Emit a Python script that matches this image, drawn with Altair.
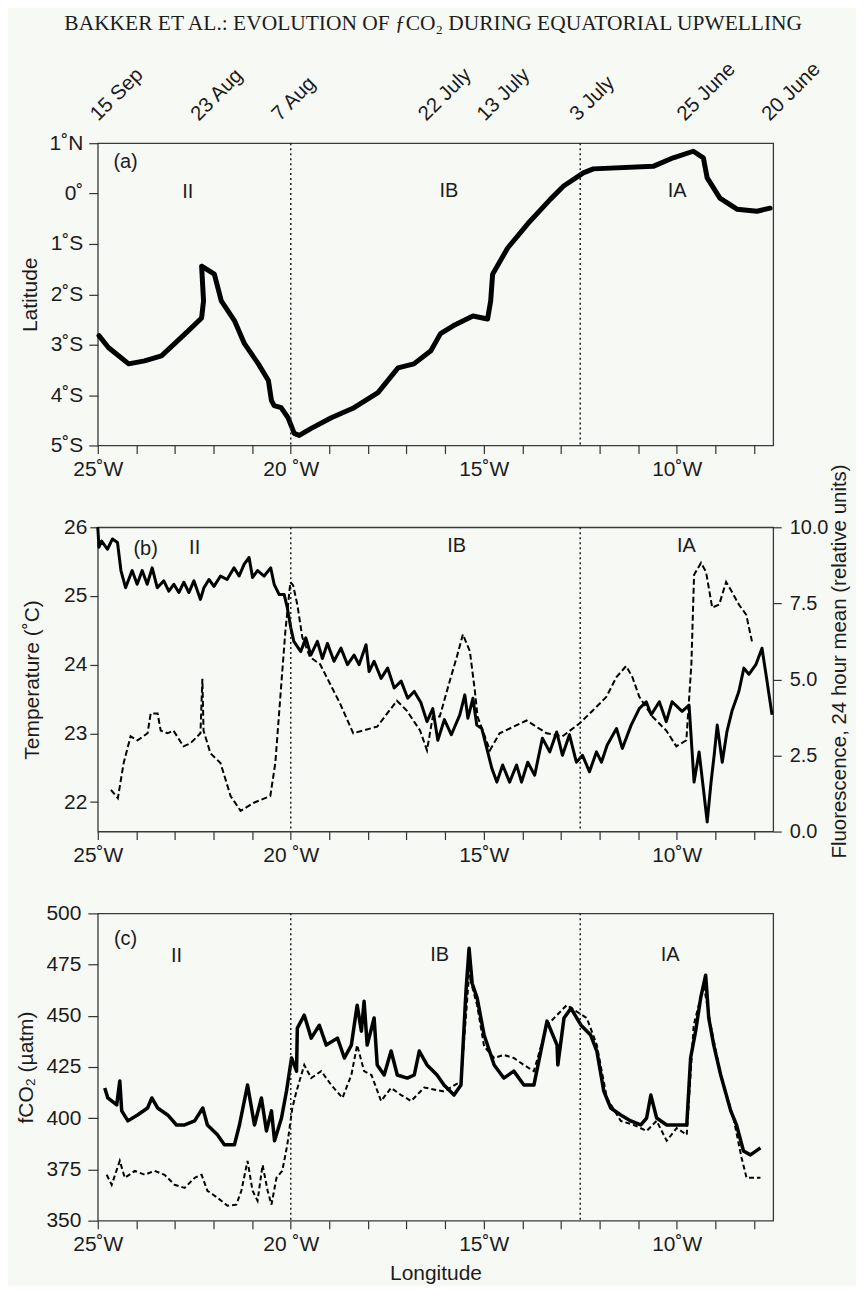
import altair as alt
import pandas as pd

TITLE = "BAKKER ET AL.: EVOLUTION OF ƒCO₂ DURING EQUATORIAL UPWELLING"

# ---------------- panel (a): ship track (degrees W, latitude) ----------------
track_lon = [24.97, 24.72, 24.46, 24.20, 23.79, 23.35, 23.01, 22.65, 22.31, 22.26, 22.31,
             21.98, 21.80, 21.46, 21.20, 20.84, 20.58, 20.50, 20.43, 20.25, 20.07, 19.91,
             19.78, 19.47, 18.95, 18.36, 17.74, 17.22, 16.81, 16.37, 16.12, 15.78, 15.28,
             14.90, 14.82, 14.77, 14.38, 13.86, 13.27, 12.93, 12.42, 12.16, 10.61, 10.09,
             9.57, 9.31, 9.21, 8.88, 8.44, 7.92, 7.58]
track_lat = [-2.82, -3.06, -3.22, -3.38, -3.32, -3.22, -2.98, -2.72, -2.47, -2.13, -1.44,
             -1.60, -2.13, -2.52, -2.98, -3.38, -3.71, -4.11, -4.21, -4.25, -4.45, -4.76,
             -4.80, -4.66, -4.45, -4.25, -3.95, -3.46, -3.38, -3.12, -2.78, -2.62, -2.43,
             -2.49, -2.13, -1.60, -1.08, -0.60, -0.11, 0.15, 0.41, 0.49, 0.54, 0.71,
             0.84, 0.71, 0.31, -0.09, -0.31, -0.35, -0.29]

boundary_lon = [20.0, 12.5]

date_text = ["15 Sep", "23 Aug", "7 Aug", "22 July", "13 July", "3 July", "25 June", "20 June"]
date_lon = [25.0, 22.40, 20.30, 16.50, 14.98, 12.58, 9.80, 7.60]

lat_tick_values = [-5, -4, -3, -2, -1, 0, 1]
lon_tick_values = list(range(8, 26))
lon_label_values = [25, 20, 15, 10]
lon_label_text = ["25˚W", "20 ˚W", "15˚W", "10˚W"]

# ---------------- panel (b): temperature and fluorescence ----------------
temp_lon = [25.00, 24.97, 24.90, 24.75, 24.62, 24.49, 24.40, 24.28, 24.11, 23.98, 23.85,
            23.72, 23.59, 23.46, 23.29, 23.16, 23.03, 22.90, 22.77, 22.64, 22.51, 22.34,
            22.25, 22.12, 21.99, 21.82, 21.65, 21.47, 21.34, 21.21, 21.08, 20.99, 20.86,
            20.69, 20.52, 20.43, 20.30, 20.17, 20.09, 20.00, 19.92, 19.74, 19.61, 19.48,
            19.31, 19.18, 19.05, 18.88, 18.70, 18.53, 18.36, 18.23, 18.05, 17.97, 17.84,
            17.66, 17.49, 17.32, 17.14, 16.97, 16.80, 16.63, 16.47, 16.32, 16.19, 16.02,
            15.84, 15.62, 15.49, 15.41, 15.28, 15.18, 15.05, 14.92, 14.79, 14.66, 14.51,
            14.33, 14.15, 14.02, 13.86, 13.68, 13.48, 13.29, 13.11, 12.96, 12.78, 12.60,
            12.44, 12.26, 12.08, 11.95, 11.80, 11.56, 11.41, 11.18, 10.97, 10.79, 10.66,
            10.45, 10.27, 10.12, 9.86, 9.68, 9.55, 9.42, 9.29, 9.21, 9.11, 9.03, 8.95,
            8.82, 8.70, 8.57, 8.39, 8.26, 8.13, 7.95, 7.79, 7.66, 7.53]
temp_val = [26.00, 25.71, 25.80, 25.68, 25.83, 25.78, 25.37, 25.12, 25.37, 25.17, 25.37,
            25.17, 25.41, 25.12, 25.22, 25.07, 25.17, 25.05, 25.20, 25.05, 25.22, 24.95,
            25.12, 25.24, 25.14, 25.29, 25.24, 25.41, 25.29, 25.46, 25.56, 25.27, 25.37,
            25.29, 25.41, 25.17, 25.02, 25.02, 24.83, 24.54, 24.34, 24.19, 24.39, 24.14,
            24.34, 24.09, 24.31, 24.05, 24.24, 24.00, 24.14, 24.00, 24.29, 23.90, 24.05,
            23.80, 23.95, 23.66, 23.76, 23.51, 23.61, 23.45, 23.17, 23.36, 22.90, 23.20,
            22.98, 23.27, 23.56, 23.22, 23.51, 23.12, 23.07, 22.78, 22.49, 22.29, 22.54,
            22.29, 22.54, 22.29, 22.58, 22.39, 22.93, 22.73, 23.02, 22.68, 22.98, 22.58,
            22.68, 22.44, 22.73, 22.58, 22.83, 23.07, 22.78, 23.12, 23.36, 23.46, 23.27,
            23.46, 23.17, 23.46, 23.32, 23.41, 22.29, 22.73, 22.10, 21.71, 22.29, 22.68, 23.12,
            22.58, 23.02, 23.32, 23.61, 23.95, 23.86, 24.00, 24.24, 23.76, 23.27]

fluor_lon = [24.66, 24.48, 24.33, 24.15, 23.97, 23.71, 23.63, 23.45, 23.37, 23.19, 23.04,
             22.78, 22.60, 22.34, 22.29, 22.26, 22.08, 21.82, 21.56, 21.30, 20.97, 20.53,
             20.40, 20.27, 20.14, 20.01, 19.94, 19.83, 19.70, 19.50, 19.24, 18.98, 18.72,
             18.38, 18.13, 17.76, 17.25, 16.99, 16.65, 16.47, 16.32, 16.14, 15.88, 15.70,
             15.54, 15.36, 15.23, 15.16, 14.84, 14.59, 13.89, 13.37, 12.96, 12.52, 12.18,
             11.82, 11.56, 11.31, 11.15, 10.97, 10.63, 10.27, 10.01, 9.75, 9.62, 9.55,
             9.37, 9.24, 9.08, 8.90, 8.72, 8.57, 8.39, 8.20, 8.05]
fluor_val = [1.37, 1.10, 2.25, 3.13, 3.00, 3.23, 3.88, 3.88, 3.32, 3.23, 3.32,
             2.80, 2.90, 3.23, 5.02, 3.32, 2.57, 2.25, 1.17, 0.68, 0.94, 1.17,
             2.25, 4.43, 6.58, 8.20, 8.10, 7.46, 6.38, 5.73, 5.50, 4.85, 4.20,
             3.23, 3.32, 3.45, 4.30, 3.97, 3.32, 2.67, 3.78, 3.78, 4.95, 5.73,
             6.48, 5.93, 4.63, 3.78, 2.67, 3.23, 3.65, 3.23, 3.13, 3.55, 3.97,
             4.43, 5.08, 5.44, 5.08, 4.43, 3.78, 3.32, 2.80, 3.00, 5.50, 8.44,
             8.83, 8.53, 7.36, 7.46, 8.20, 7.88, 7.46, 7.13, 6.25]

temp_tick_values = [22, 23, 24, 25, 26]
fluor_tick_values = [0, 2.5, 5, 7.5, 10]

# ---------------- panel (c): fCO2 ----------------
fco2_lon = [24.82, 24.74, 24.51, 24.43, 24.38, 24.22, 23.97, 23.71, 23.60, 23.45, 23.19,
            22.96, 22.75, 22.49, 22.28, 22.16, 21.90, 21.72, 21.46, 21.33, 21.12, 20.94,
            20.76, 20.63, 20.50, 20.42, 20.24, 20.11, 19.98, 19.85, 19.83, 19.65, 19.47,
            19.26, 19.08, 18.79, 18.61, 18.43, 18.28, 18.17, 18.10, 18.02, 17.84, 17.76,
            17.58, 17.40, 17.24, 16.98, 16.80, 16.67, 16.47, 16.21, 16.03, 15.77, 15.59,
            15.46, 15.38, 15.30, 15.17, 14.99, 14.73, 14.48, 14.22, 13.96, 13.70, 13.52,
            13.36, 13.10, 13.08, 12.92, 12.74, 12.48, 12.23, 12.07, 11.89, 11.71, 11.45,
            11.19, 10.93, 10.78, 10.67, 10.52, 10.26, 10.00, 9.74, 9.64, 9.51, 9.38,
            9.25, 9.17, 9.04, 8.86, 8.60, 8.45, 8.27, 8.09, 7.83]
fco2_val = [414.8, 409.9, 406.5, 418.2, 403.6, 398.7, 401.6, 405.0, 409.9, 405.0, 401.6,
            396.7, 396.7, 398.7, 405.0, 396.7, 391.9, 387.0, 387.0, 396.7, 416.2, 396.7,
            409.9, 393.8, 403.6, 389.0, 400.1, 413.3, 429.4, 423.0, 444.0, 450.3, 439.1,
            445.4, 435.7, 439.1, 429.4, 435.7, 455.2, 442.5, 457.1, 435.7, 448.9, 426.0,
            421.1, 432.8, 421.1, 419.6, 421.1, 432.8, 426.0, 421.1, 416.2, 411.3, 416.2,
            462.0, 483.0, 465.9, 458.6, 440.6, 426.0, 419.6, 423.0, 416.2, 416.2, 432.8,
            447.4, 435.7, 426.0, 448.9, 453.7, 445.4, 440.6, 432.8, 413.3, 405.0, 401.6,
            398.7, 396.7, 400.1, 411.3, 400.1, 396.7, 396.7, 396.7, 429.4, 442.5, 458.6,
            469.8, 448.9, 435.7, 421.1, 403.6, 396.7, 384.0, 382.1, 385.5]

fco2b_lon = [24.77, 24.64, 24.43, 24.30, 24.04, 23.78, 23.53, 23.27, 23.01, 22.75, 22.49,
             22.31, 22.16, 21.90, 21.64, 21.41, 21.28, 21.12, 20.99, 20.86, 20.73, 20.60,
             20.50, 20.37, 20.22, 20.09, 19.96, 19.85, 19.65, 19.47, 19.21, 18.95, 18.66,
             18.43, 18.28, 18.10, 17.91, 17.66, 17.40, 17.14, 16.88, 16.54, 16.03, 15.59,
             15.38, 15.17, 14.99, 14.73, 14.48, 14.22, 13.96, 13.70, 13.36, 12.85, 12.33,
             12.07, 11.81, 11.45, 11.11, 10.78, 10.52, 10.26, 10.00, 9.74, 9.56, 9.30,
             9.12, 8.86, 8.53, 8.32, 8.19, 7.83]
fco2b_val = [372.4, 367.5, 379.2, 370.9, 374.3, 372.4, 374.3, 372.4, 367.5, 366.0, 370.9,
             372.4, 364.6, 361.2, 357.3, 357.8, 364.6, 379.2, 364.6, 359.7, 377.2, 364.6,
             357.8, 370.9, 374.3, 387.0, 405.0, 413.3, 426.0, 419.6, 423.0, 416.2, 409.9,
             421.1, 435.7, 423.0, 421.1, 408.4, 414.8, 411.3, 408.4, 415.0, 413.0, 418.0,
             470.0, 455.0, 435.0, 429.4, 430.9, 429.4, 426.0, 423.0, 445.4, 455.2, 448.9,
             435.7, 409.9, 398.7, 396.7, 393.8, 398.7, 389.0, 395.2, 391.9, 445.4, 465.0,
             445.4, 421.1, 400.1, 380.7, 370.9, 370.9]

fco2_tick_values = [350, 375, 400, 425, 450, 475, 500]

# ---------------- region labels ----------------
lab_text = ["(a)", "II", "IB", "IA"]
lab_a_lon = [24.28, 22.67, 15.90, 9.99]
lab_a_val = [0.62, 0.03, 0.05, 0.05]
lab_b_text = ["(b)", "II", "IB", "IA"]
lab_b_lon = [23.76, 22.49, 15.70, 9.75]
lab_b_val = [25.69, 25.70, 25.73, 25.73]
lab_c_text = ["(c)", "II", "IB", "IA"]
lab_c_lon = [24.28, 22.96, 16.14, 10.17]
lab_c_val = [487.3, 479.0, 479.5, 479.5]

# ---------------- styling ----------------
FONT = "Liberation Sans"
INK = "#1c1c1c"
W = 677

xscale = alt.Scale(domain=[25, 7.5], nice=False, zero=False)


def expr_map(values, texts, default="''"):
    parts = [f"abs(datum.value - ({v})) < 0.001 ? '{t}'" for v, t in zip(values, texts)]
    return " : ".join(parts) + " : " + default


lon_expr = expr_map(lon_label_values, lon_label_text)


def x_axis(title=None):
    kw = dict(values=lon_tick_values, labelExpr=lon_expr, tickSize=8, labelPadding=5,
              labelOverlap=False, labelFlush=False, labelBound=False, domain=False,
              titlePadding=8)
    kw["title"] = title if title else None
    return alt.Axis(**kw)


def rules(xaxis):
    return alt.Chart(pd.DataFrame({"lon": boundary_lon})).mark_rule(
        color="#222222", strokeDash=[2, 3], strokeWidth=1.5
    ).encode(x=alt.X("lon:Q", scale=xscale, axis=xaxis))


def labels(texts, lons, vals, yscale, xaxis, yaxis):
    df = pd.DataFrame({"t": texts, "lon": lons, "v": vals})
    return alt.Chart(df).mark_text(font=FONT, fontSize=20, color=INK).encode(
        x=alt.X("lon:Q", scale=xscale, axis=xaxis),
        y=alt.Y("v:Q", scale=yscale, axis=yaxis),
        text="t:N",
    )


# ---------- panel (a) ----------
lat_scale = alt.Scale(domain=[-5, 1], nice=False, zero=False)
track_df = pd.DataFrame({"lon": track_lon, "v": track_lat, "i": list(range(len(track_lon)))})
lat_expr = "datum.value > 0 ? datum.value + '˚N' : (datum.value == 0 ? '0˚' : (-datum.value) + '˚S')"
xa_a = x_axis()
ya_a = alt.Axis(values=lat_tick_values, labelExpr=lat_expr, tickSize=9, labelPadding=6,
                domain=False, title="Latitude", titlePadding=9)

line_a = alt.Chart(track_df).mark_line(
    color="black", strokeWidth=5, strokeJoin="round", strokeCap="round"
).encode(
    x=alt.X("lon:Q", scale=xscale, axis=xa_a),
    y=alt.Y("v:Q", scale=lat_scale, axis=ya_a),
    order="i:Q",
)

dates_df = pd.DataFrame({"lon": date_lon, "t": date_text})
top_a = alt.Chart(dates_df).mark_point(opacity=0).encode(
    x=alt.X("lon:Q", scale=xscale,
            axis=alt.Axis(orient="top", values=date_lon, labelExpr=expr_map(date_lon, date_text),
                          ticks=False, domain=False, labelAngle=315, labelAlign="left",
                          labelBaseline="alphabetic", labelPadding=22, labelFontSize=20.5,
                          labelOverlap=False, labelBound=False,
                          labelFlush=False, title=None))
)

panel_a = alt.layer(
    alt.layer(line_a, rules(xa_a), labels(lab_text, lab_a_lon, lab_a_val, lat_scale, xa_a, ya_a)),
    top_a,
).resolve_axis(x="independent").properties(width=W, height=303)

# ---------- panel (b) ----------
temp_scale = alt.Scale(domain=[21.57, 26], nice=False, zero=False)
fluor_scale = alt.Scale(domain=[0, 10], nice=False, zero=False)
temp_df = pd.DataFrame({"lon": temp_lon, "v": temp_val})
fluor_df = pd.DataFrame({"lon": fluor_lon, "v": fluor_val})
xa_b = x_axis()
ya_b = alt.Axis(values=temp_tick_values, format="d", tickSize=8, labelPadding=3,
                domain=False, title="Temperature (˚C)", titlePadding=21)

temp_line = alt.Chart(temp_df).mark_line(color="black", strokeWidth=3, strokeJoin="round").encode(
    x=alt.X("lon:Q", scale=xscale, axis=xa_b),
    y=alt.Y("v:Q", scale=temp_scale, axis=ya_b),
)
fluor_line = alt.Chart(fluor_df).mark_line(color="black", strokeWidth=2, strokeDash=[6, 3]).encode(
    x=alt.X("lon:Q", scale=xscale, axis=xa_b),
    y=alt.Y("v:Q", scale=fluor_scale,
            axis=alt.Axis(orient="right", values=fluor_tick_values, format=".1f", tickSize=8,
                          labelPadding=8, labelFontSize=20, domain=False,
                          title="Fluorescence, 24 hour mean (relative units)",
                          titleAngle=270, titleBaseline="top", titleFontSize=20.5,
                          titleY=134, titlePadding=2)),
)
panel_b = alt.layer(
    alt.layer(temp_line, rules(xa_b), labels(lab_b_text, lab_b_lon, lab_b_val, temp_scale, xa_b, ya_b)),
    fluor_line,
).resolve_scale(y="independent").properties(width=W, height=305)

# ---------- panel (c) ----------
fco2_scale = alt.Scale(domain=[350, 500], nice=False, zero=False)
fco2_df = pd.DataFrame({"lon": fco2_lon, "v": fco2_val})
fco2b_df = pd.DataFrame({"lon": fco2b_lon, "v": fco2b_val})
xa_c = x_axis("Longitude")
ya_c = alt.Axis(values=fco2_tick_values, format="d", tickSize=10, labelPadding=7,
                domain=False, title="fCO₂ (µatm)", titlePadding=9)

fco2_line = alt.Chart(fco2_df).mark_line(color="black", strokeWidth=3.5, strokeJoin="round").encode(
    x=alt.X("lon:Q", scale=xscale, axis=xa_c),
    y=alt.Y("v:Q", scale=fco2_scale, axis=ya_c),
)
fco2b_line = alt.Chart(fco2b_df).mark_line(color="black", strokeWidth=2, strokeDash=[5, 3]).encode(
    x=alt.X("lon:Q", scale=xscale, axis=xa_c),
    y=alt.Y("v:Q", scale=fco2_scale, axis=ya_c),
)
panel_c = alt.layer(
    fco2_line, fco2b_line, rules(xa_c),
    labels(lab_c_text, lab_c_lon, lab_c_val, fco2_scale, xa_c, ya_c)
).properties(width=W, height=308)

chart = alt.vconcat(
    panel_a, panel_b, panel_c, spacing=82, bounds="flush",
    title=alt.TitleParams(TITLE, font="Liberation Serif", fontSize=21.5, fontWeight="normal",
                          color=INK, anchor="middle", offset=23),
).properties(
    padding={"left": 7, "top": 3, "right": 4, "bottom": 0},
    background="#f7f9f5",
).configure_view(
    stroke="#3a3a3a", strokeWidth=1.3
).configure_axis(
    labelFont=FONT, titleFont=FONT, labelFontSize=21, titleFontSize=21,
    titleFontWeight="normal", labelColor=INK, titleColor=INK, labelOverlap=False,
    tickColor="#333333", tickWidth=1.2, domainColor="#333333", grid=False,
)

chart.save("out.html", embed_options={"renderer": "svg", "actions": False})
